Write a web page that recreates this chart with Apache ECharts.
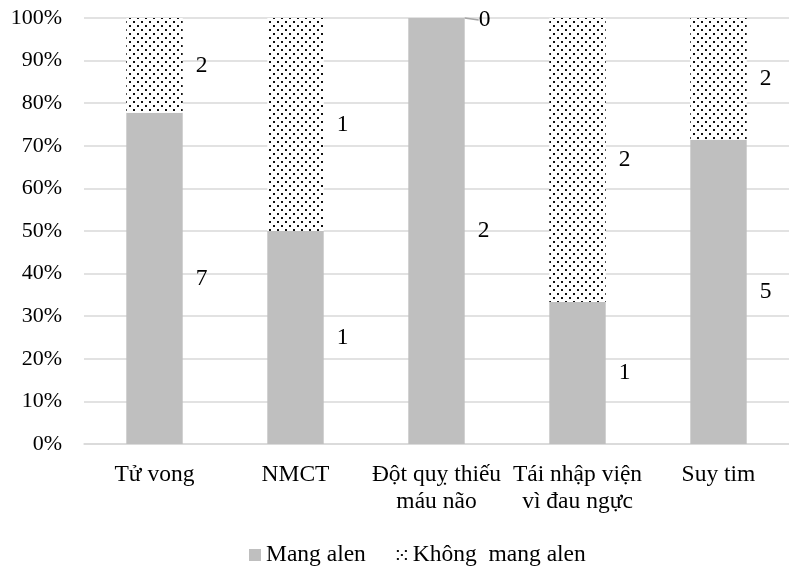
<!DOCTYPE html>
<html>
<head>
<meta charset="utf-8">
<script src="https://cdn.jsdelivr.net/npm/echarts@6/dist/echarts.min.js"></script>
<style>html,body{margin:0;padding:0;background:#fff}#c{width:789px;height:566px}</style>
</head>
<body>
<div id="c"></div>
<script>
const categories = ['Tử vong', 'NMCT', 'Đột quỵ thiếu\nmáu não', 'Tái nhập viện\nvì đau ngực', 'Suy tim'];
const mangAlen = [7, 1, 2, 1, 5];
const khongMangAlen = [2, 1, 0, 2, 2];
const seriesNames = ['Mang alen', 'Không  mang alen'];
const yMin = 0, yMax = 100, yStep = 10;

const totals = mangAlen.map((v, i) => v + khongMangAlen[i]);
const pct = (arr) => arr.map((v, i) => {
  const d = { value: totals[i] ? v / totals[i] * 100 : 0, count: v };
  if (v === 0) {
    d.label = { distance: 4 };
    d.labelLine = { show: true };
  }
  return d;
});

const tile = document.createElement('canvas');
tile.width = 8; tile.height = 8;
const tc = tile.getContext('2d');
tc.fillStyle = '#fff'; tc.fillRect(0, 0, 8, 8);
tc.fillStyle = '#111';
tc.fillRect(1, 1, 2, 2);
tc.fillRect(5, 5, 2, 2);
const dotted = { image: tile, repeat: 'repeat' };

const FONT = 'Liberation Serif';
const FS = 23.5;
const FSY = 22;

const chart = echarts.init(document.getElementById('c'), null, { renderer: 'canvas' });
chart.setOption({
  animation: false,
  textStyle: { fontFamily: FONT, color: '#000' },
  grid: { left: 84, top: 18, width: 715, height: 426, containLabel: false },
  legend: {
    top: 538, left: 244, itemGap: 30, itemWidth: 12, itemHeight: 12,
    icon: 'rect',
    textStyle: { fontFamily: FONT, fontSize: FS, color: '#000' },
    data: seriesNames
  },
  xAxis: {
    type: 'category', data: categories,
    axisLine: { lineStyle: { color: '#d9d9d9', width: 1.5 } },
    axisTick: { show: false },
    axisLabel: { fontFamily: FONT, fontSize: FS, color: '#000', margin: 17, lineHeight: 27, interval: 0 }
  },
  yAxis: {
    type: 'value', min: yMin, max: yMax, interval: yStep,
    axisLine: { show: false }, axisTick: { show: false },
    splitLine: { lineStyle: { color: '#d9d9d9', width: 1.5 } },
    axisLabel: { fontFamily: FONT, fontSize: FSY, color: '#000', margin: 22, formatter: '{value}%' }
  },
  series: [
    {
      name: seriesNames[0], type: 'bar', stack: 'a', barWidth: '40%',
      itemStyle: { color: '#bfbfbf' },
      label: { show: true, position: 'right', distance: 13, fontFamily: FONT, fontSize: FS, color: '#000',
        formatter: p => p.data.count },
      data: pct(mangAlen)
    },
    {
      name: seriesNames[1], type: 'bar', stack: 'a', barWidth: '40%',
      itemStyle: { color: dotted },
      label: { show: true, position: 'right', distance: 13, fontFamily: FONT, fontSize: FS, color: '#000',
        formatter: p => p.data.count },
      labelLine: { show: false, lineStyle: { color: '#a6a6a6', width: 1.5 } },
      labelLayout: function (p) {
        if (khongMangAlen[p.dataIndex] === 0) return { dx: 10, dy: 2 };
        return {};
      },
      data: pct(khongMangAlen)
    }
  ]
});
</script>
</body>
</html>
